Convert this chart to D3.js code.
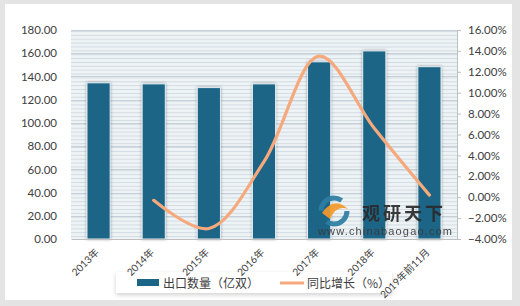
<!DOCTYPE html>
<head>
  <meta charset="utf-8">
  <script src="https://cdn.jsdelivr.net/npm/d3@7/dist/d3.min.js"></script>
  <style>
    body { margin: 0; background: #e4e4e4; }
    text { font-family: Lato, "Noto Sans CJK SC", sans-serif; }
  </style>
</head>
<body>
  <script>
    var categories = ["2013年", "2014年", "2015年", "2016年", "2017年", "2018年", "2019年前11月"];
    var exportQty = [134.5, 133.6, 130.4, 133.6, 152.6, 162.0, 148.4];
    var growth = [null, -0.3, -3.0, 3.4, 13.5, 6.6, 0.2];
    var leftTicks = [0, 20, 40, 60, 80, 100, 120, 140, 160, 180];
    var rightTicks = [-4, -2, 0, 2, 4, 6, 8, 10, 12, 14, 16];

    var width = 520, height = 306;
    var margin = {top: 30, right: 63, bottom: 67, left: 71};

    var svg = d3.select("body").append("svg")
      .attr("width", width)
      .attr("height", height);

    var defs = svg.append("defs");
    var pat = defs.append("pattern")
      .attr("id", "stripes")
      .attr("patternUnits", "userSpaceOnUse")
      .attr("width", 8).attr("height", 3.87);
    pat.append("rect").attr("width", 8).attr("height", 3.87).attr("fill", "#eef3f6");
    pat.append("rect").attr("y", 0).attr("width", 8).attr("height", 1).attr("fill", "#d3dce3");

    var sh = defs.append("filter").attr("id", "shadow")
      .attr("x", "-30%").attr("y", "-30%").attr("width", "160%").attr("height", "160%");
    sh.append("feDropShadow").attr("dx", 0).attr("dy", 0).attr("stdDeviation", 1.6)
      .attr("flood-color", "#000").attr("flood-opacity", 0.35);

    var lsh = defs.append("filter").attr("id", "lshadow")
      .attr("x", "-10%").attr("y", "-30%").attr("width", "120%").attr("height", "180%");
    lsh.append("feDropShadow").attr("dx", 0).attr("dy", 2).attr("stdDeviation", 2)
      .attr("flood-color", "#000").attr("flood-opacity", 0.18);

    // card
    svg.append("rect")
      .attr("x", 5).attr("y", 4).attr("width", 507).attr("height", 296)
      .attr("fill", "#fff");

    var x = d3.scaleBand()
      .domain(categories)
      .range([margin.left, width - margin.right])
      .paddingInner(0.58).paddingOuter(0.29);

    var y = d3.scaleLinear()
      .domain([0, 180])
      .range([height - margin.bottom, margin.top]);

    var y2 = d3.scaleLinear()
      .domain([-4, 16])
      .range([height - margin.bottom, margin.top]);

    // plot background
    svg.append("rect")
      .attr("x", margin.left).attr("y", margin.top)
      .attr("width", width - margin.left - margin.right)
      .attr("height", height - margin.top - margin.bottom)
      .attr("fill", "url(#stripes)");

    svg.append("g")
      .selectAll("line").data(leftTicks.slice(1))
      .enter().append("line")
        .attr("x1", margin.left).attr("x2", width - margin.right)
        .attr("y1", function(d) { return Math.round(y(d)) + 0.5; })
        .attr("y2", function(d) { return Math.round(y(d)) + 0.5; })
        .attr("stroke", "#c6d0d8");

    // bars
    svg.append("g")
      .selectAll("rect").data(exportQty)
      .enter().append("rect")
        .attr("x", function(d, i) { return x(categories[i]); })
        .attr("y", function(d) { return y(d); })
        .attr("width", x.bandwidth())
        .attr("height", function(d) { return y(0) - y(d); })
        .attr("fill", "#1b6586")
        .attr("stroke", "#e3edf2")
        .attr("stroke-width", 1)
        .attr("filter", "url(#shadow)");

    // left axis
    var gl = svg.append("g")
      .attr("transform", "translate(" + margin.left + ",0)")
      .call(d3.axisLeft(y).tickValues(leftTicks).tickFormat(d3.format(".2f")).tickSize(0).tickPadding(14));
    gl.select(".domain").remove();
    gl.selectAll("text").attr("font-size", 11.5).attr("fill", "#404040");

    // right axis
    var gr = svg.append("g")
      .attr("transform", "translate(" + (width - margin.right) + ",0)")
      .call(d3.axisRight(y2).tickValues(rightTicks)
        .tickFormat(function(d) { return d3.format(".2f")(d) + "%"; })
        .tickSize(4).tickPadding(7));
    gr.select(".domain").attr("stroke", "#bfbfbf");
    gr.selectAll("line").attr("stroke", "#bfbfbf");
    gr.selectAll("text").attr("font-size", 11.5).attr("fill", "#404040");

    // x axis
    var gx = svg.append("g")
      .attr("transform", "translate(0," + (height - margin.bottom) + ")")
      .call(d3.axisBottom(x).tickSize(0).tickPadding(0));
    gx.select(".domain").attr("stroke", "#bfbfbf");
    gx.selectAll("text")
      .attr("font-size", 10).attr("fill", "#404040")
      .attr("text-anchor", "end")
      .attr("y", 0).attr("dy", 0)
      .attr("transform", "translate(1,14) rotate(-45)");

    // growth line
    var pts = growth.map(function(d, i) { return [x(categories[i]) + x.bandwidth() / 2, d]; })
      .filter(function(p) { return p[1] !== null; });
    var line = d3.line()
      .x(function(p) { return p[0]; })
      .y(function(p) { return y2(p[1]); })
      .curve(d3.curveCatmullRom.alpha(0.5));
    svg.append("path")
      .datum(pts)
      .attr("d", line)
      .attr("fill", "none")
      .attr("stroke", "#f6a97c")
      .attr("stroke-width", 3.2)
      .attr("stroke-linecap", "round");

    // watermark
    var wm = svg.append("g").attr("opacity", 0.92);
    wm.append("circle").attr("cx", 334).attr("cy", 211).attr("r", 13)
      .attr("fill", "none").attr("stroke", "#2d7ea3").attr("stroke-width", 5)
      .attr("stroke-dasharray", "28 13");
    wm.append("path").attr("d", "M322,213 Q334,196 348,209 Q336,205 330,219 Z").attr("fill", "#f39a2b");
    wm.append("text").attr("x", 362).attr("y", 220)
      .attr("font-size", 18).attr("font-weight", "bold").attr("fill", "#2a2a2a")
      .attr("letter-spacing", 3)
      .style("font-family", "'Noto Sans CJK SC', sans-serif")
      .text("观研天下");
    wm.append("text").attr("x", 318).attr("y", 235)
      .attr("font-size", 11).attr("fill", "#3a3a3a")
      .attr("textLength", 134)
      .style("font-family", "'Liberation Sans', Arial, sans-serif")
      .text("www.chinabaogao.com");

    // legend
    var lg = svg.append("g");
    lg.append("rect")
      .attr("x", 116).attr("y", 272).attr("width", 276).attr("height", 21)
      .attr("fill", "#fff").attr("filter", "url(#lshadow)");
    lg.append("rect").attr("x", 137).attr("y", 279).attr("width", 22).attr("height", 7).attr("fill", "#1b6586");
    lg.append("text").attr("x", 163).attr("y", 287.5).attr("font-size", 12).attr("fill", "#404040")
      .style("font-family", "'Noto Sans CJK SC', sans-serif")
      .text("出口数量（亿双）");
    lg.append("line").attr("x1", 280).attr("x2", 304).attr("y1", 283).attr("y2", 283)
      .attr("stroke", "#f6a97c").attr("stroke-width", 3);
    lg.append("text").attr("x", 307).attr("y", 287.5).attr("font-size", 12).attr("fill", "#404040")
      .style("font-family", "'Noto Sans CJK SC', sans-serif")
      .text("同比增长（%）");

    // bring x labels above legend
    gx.raise();
  </script>
</body>
